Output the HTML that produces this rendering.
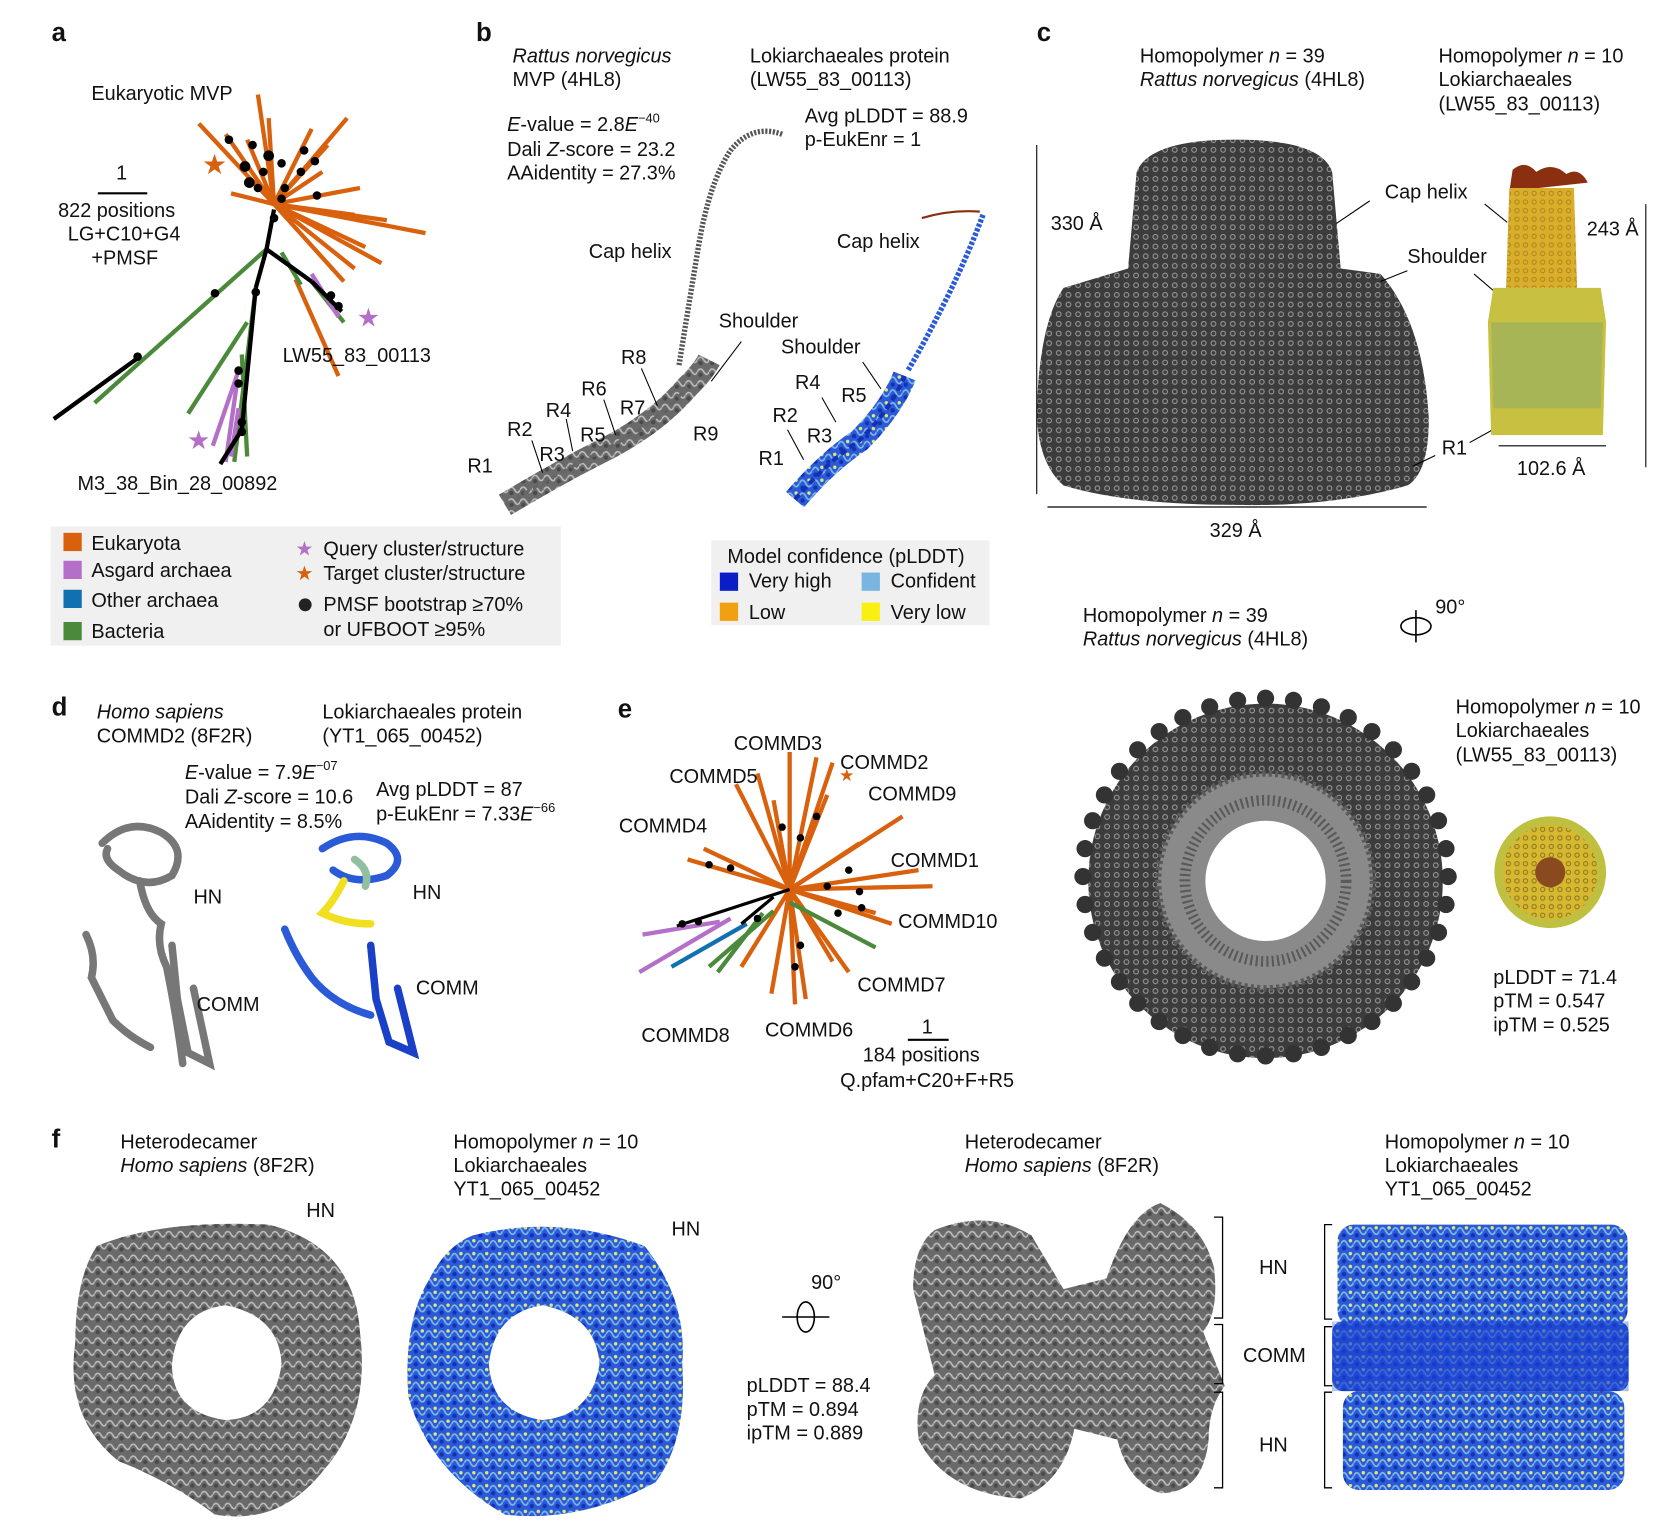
<!DOCTYPE html>
<html><head><meta charset="utf-8"><style>
html,body{margin:0;padding:0;background:#fff;}
svg{display:block;}
text{font-family:"Liberation Sans",sans-serif;font-size:18.5px;fill:#111;}
.b{font-weight:bold;font-size:24px;}
.i{font-style:italic;}
</style></head><body>
<svg width="1676" height="1534" viewBox="0 0 1560 1428" xmlns="http://www.w3.org/2000/svg">
<defs>
<pattern id="pg" width="9" height="9" patternUnits="userSpaceOnUse"><rect width="9" height="9" fill="#3c3c3c"/><circle cx="4.5" cy="4.5" r="2.2" fill="none" stroke="#9a9a9a" stroke-width="1"/></pattern>
<pattern id="pg2" width="11" height="11" patternUnits="userSpaceOnUse"><rect width="11" height="11" fill="#6a6a6a"/><path d="M0 5 Q3 0 6 5 T11 5" fill="none" stroke="#bdbdbd" stroke-width="1.5"/><circle cx="3" cy="8" r="2" fill="#4a4a4a"/></pattern>
<pattern id="pb" width="12" height="12" patternUnits="userSpaceOnUse"><rect width="12" height="12" fill="#2a5ad8"/><path d="M0 6 Q3 0 6 6 T12 6" fill="none" stroke="#7fb8e8" stroke-width="1.6"/><circle cx="9" cy="3" r="1.6" fill="#e8e870"/><circle cx="3" cy="10" r="2" fill="#1530b0"/></pattern>
<pattern id="py" width="8" height="8" patternUnits="userSpaceOnUse"><rect width="8" height="8" fill="#d8b830"/><circle cx="4" cy="4" r="2" fill="none" stroke="#8a7a20" stroke-width="1"/></pattern>
</defs>

<!-- Panel labels -->
<text x="48" y="38" class="b">a</text>
<text x="443" y="38" class="b">b</text>
<text x="965" y="38" class="b">c</text>
<text x="48" y="666" class="b">d</text>
<text x="575" y="668" class="b">e</text>
<text x="48" y="1068" class="b">f</text>

<!-- Panel a tree -->
<g stroke="#d9600c" stroke-width="4" stroke-linecap="butt">
<line x1="255" y1="190" x2="240" y2="88"/><line x1="255" y1="190" x2="323" y2="110"/>
<line x1="255" y1="190" x2="396" y2="217"/><line x1="255" y1="190" x2="355" y2="245"/>
<line x1="255" y1="190" x2="330" y2="250"/><line x1="255" y1="190" x2="185" y2="115"/>
<line x1="255" y1="190" x2="305" y2="135"/><line x1="255" y1="190" x2="290" y2="120"/>
<line x1="255" y1="190" x2="335" y2="175"/><line x1="255" y1="190" x2="330" y2="200"/>
<line x1="255" y1="190" x2="210" y2="125"/><line x1="255" y1="190" x2="215" y2="180"/>
<line x1="255" y1="190" x2="340" y2="230"/><line x1="255" y1="190" x2="300" y2="160"/>
<line x1="255" y1="190" x2="320" y2="262"/><line x1="255" y1="190" x2="250" y2="110"/>
<line x1="255" y1="190" x2="230" y2="130"/><line x1="255" y1="190" x2="360" y2="205"/>
<line x1="275" y1="260" x2="315" y2="350"/>
</g>
<g stroke="#4a8a3a" stroke-width="4">
<line x1="248" y1="232" x2="88" y2="375"/><line x1="238" y1="268" x2="218" y2="430"/>
<line x1="230" y1="300" x2="175" y2="385"/><line x1="262" y1="235" x2="280" y2="265"/>
<line x1="290" y1="262" x2="320" y2="300"/><line x1="225" y1="330" x2="230" y2="425"/>
</g>
<g stroke="#b470c8" stroke-width="4">
<line x1="290" y1="255" x2="315" y2="295"/><line x1="222" y1="345" x2="198" y2="415"/>
<line x1="220" y1="360" x2="210" y2="430"/><line x1="222" y1="380" x2="215" y2="425"/>
</g>
<g stroke="#000" stroke-width="4">
<line x1="255" y1="195" x2="248" y2="232"/><line x1="248" y1="232" x2="238" y2="268"/>
<line x1="130" y1="332" x2="50" y2="390"/><line x1="248" y1="232" x2="290" y2="262"/>
<line x1="238" y1="268" x2="225" y2="400"/><line x1="225" y1="400" x2="205" y2="432"/>
<line x1="290" y1="262" x2="318" y2="290"/>
</g>
<g fill="#000">
<circle cx="255" cy="203" r="4"/><circle cx="238" cy="272" r="4"/><circle cx="200" cy="273" r="4"/>
<circle cx="128" cy="332" r="4"/><circle cx="222" cy="345" r="4"/><circle cx="222" cy="357" r="4"/>
<circle cx="225" cy="393" r="4"/><circle cx="225" cy="402" r="4"/><circle cx="308" cy="275" r="4"/>
<circle cx="315" cy="285" r="4"/><circle cx="213" cy="130" r="4"/><circle cx="235" cy="135" r="4"/>
<circle cx="250" cy="145" r="5"/><circle cx="228" cy="155" r="5"/><circle cx="245" cy="160" r="4"/>
<circle cx="232" cy="170" r="5"/><circle cx="262" cy="152" r="4"/><circle cx="283" cy="140" r="4"/>
<circle cx="265" cy="175" r="4"/><circle cx="293" cy="150" r="4"/><circle cx="280" cy="160" r="4"/>
<circle cx="240" cy="175" r="4"/><circle cx="262" cy="185" r="4"/><circle cx="295" cy="182" r="4"/>
</g>
<text x="188" y="162" fill="#d9600c" style="fill:#d9600c;font-size:26px">★</text>
<text x="332" y="304" style="fill:#b470c8;font-size:24px">★</text>
<text x="174" y="418" style="fill:#b470c8;font-size:24px">★</text>
<text x="85" y="93">Eukaryotic MVP</text>
<text x="108" y="167">1</text>
<line x1="91" y1="180" x2="137" y2="180" stroke="#000" stroke-width="2"/>
<text x="54" y="202">822 positions</text>
<text x="63" y="224">LG+C10+G4</text>
<text x="85" y="246">+PMSF</text>
<text x="263" y="337">LW55_83_00113</text>
<text x="72" y="456">M3_38_Bin_28_00892</text>

<!-- legend a -->
<rect x="47" y="490" width="475" height="111" fill="#f0f0f0"/>
<rect x="59" y="496" width="17" height="17" fill="#d9600c"/><text x="85" y="512">Eukaryota</text>
<rect x="59" y="522" width="17" height="17" fill="#b470c8"/><text x="85" y="537">Asgard archaea</text>
<rect x="59" y="549" width="17" height="17" fill="#1070b0"/><text x="85" y="565">Other archaea</text>
<rect x="59" y="579" width="17" height="17" fill="#4a8a3a"/><text x="85" y="594">Bacteria</text>
<text x="275" y="517" style="fill:#b470c8">★</text><text x="301" y="517">Query cluster/structure</text>
<text x="275" y="540" style="fill:#d9600c">★</text><text x="301" y="540">Target cluster/structure</text>
<circle cx="284" cy="563" r="6" fill="#222"/><text x="301" y="569">PMSF bootstrap ≥70%</text>
<text x="301" y="592">or UFBOOT ≥95%</text>

<!-- Panel b -->
<text x="477" y="58" class="i">Rattus norvegicus</text>
<text x="477" y="80">MVP (4HL8)</text>
<text x="698" y="58">Lokiarchaeales protein</text>
<text x="698" y="80">(LW55_83_00113)</text>
<text x="472" y="122"><tspan class="i">E</tspan>-value = 2.8<tspan class="i">E</tspan><tspan dy="-8" style="font-size:12px">−40</tspan></text>
<text x="472" y="145">Dali <tspan class="i">Z</tspan>-score = 23.2</text>
<text x="472" y="167">AAidentity = 27.3%</text>
<text x="749" y="114">Avg pLDDT = 88.9</text>
<text x="749" y="136">p-EukEnr = 1</text>
<text x="548" y="240">Cap helix</text>
<text x="779" y="231">Cap helix</text>
<text x="669" y="305">Shoulder</text>
<text x="727" y="329">Shoulder</text>
<path d="M728,125 Q700,115 680,140 Q660,170 650,230 Q640,290 632,340" fill="none" stroke="#555" stroke-width="5" stroke-dasharray="2 1.5"/>
<path d="M470,470 Q520,440 560,420 Q610,395 640,360 Q655,345 660,335" fill="none" stroke="url(#pg2)" stroke-width="22"/>
<path d="M470,470 Q520,440 560,420 Q610,395 640,360" fill="none" stroke="#666" stroke-width="3" stroke-dasharray="6 4"/>
<path d="M915,200 Q900,240 880,280 Q860,320 845,345" fill="none" stroke="#2a5ad8" stroke-width="5" stroke-dasharray="3 1.5"/>
<path d="M858,203 Q885,195 912,197" fill="none" stroke="#8a3010" stroke-width="2"/>
<path d="M740,465 Q770,430 800,410 Q830,380 842,350" fill="none" stroke="url(#pb)" stroke-width="22"/>
<path d="M740,465 Q770,430 800,410 Q830,380 842,350" fill="none" stroke="#1530b0" stroke-width="4" stroke-dasharray="6 4"/>
<g stroke="#000" stroke-width="1">
<line x1="662" y1="355" x2="690" y2="318"/><line x1="597" y1="343" x2="612" y2="378"/>
<line x1="562" y1="372" x2="573" y2="405"/><line x1="527" y1="390" x2="533" y2="420"/>
<line x1="495" y1="410" x2="505" y2="440"/><line x1="820" y1="362" x2="803" y2="337"/>
<line x1="765" y1="370" x2="778" y2="393"/><line x1="733" y1="400" x2="748" y2="428"/>
</g>
<text x="578" y="339">R8</text><text x="541" y="368">R6</text><text x="577" y="386">R7</text>
<text x="508" y="388">R4</text><text x="540" y="411">R5</text><text x="472" y="406">R2</text>
<text x="502" y="429">R3</text><text x="645" y="410">R9</text><text x="435" y="440">R1</text>
<text x="740" y="362">R4</text><text x="783" y="374">R5</text><text x="719" y="393">R2</text>
<text x="751" y="412">R3</text><text x="706" y="433">R1</text>
<!-- legend b -->
<rect x="662" y="503" width="259" height="79" fill="#f0f0f0"/>
<text x="677" y="524">Model confidence (pLDDT)</text>
<rect x="670" y="533" width="17" height="17" fill="#0a1ec8"/><text x="697" y="547">Very high</text>
<rect x="802" y="533" width="17" height="17" fill="#7ab4e0"/><text x="829" y="547">Confident</text>
<rect x="670" y="561" width="17" height="17" fill="#f0a010"/><text x="697" y="576">Low</text>
<rect x="802" y="561" width="17" height="17" fill="#f8f010"/><text x="829" y="576">Very low</text>

<!-- Panel c -->
<text x="1061" y="58">Homopolymer <tspan class="i">n</tspan> = 39</text>
<text x="1061" y="80" class="i">Rattus norvegicus <tspan style="font-style:normal">(4HL8)</tspan></text>
<text x="1339" y="58">Homopolymer <tspan class="i">n</tspan> = 10</text>
<text x="1339" y="80">Lokiarchaeales</text>
<text x="1339" y="103">(LW55_83_00113)</text>
<path d="M1050,250 L1058,160 Q1070,130 1150,130 Q1230,130 1240,160 L1248,250 Z" fill="url(#pg)"/>
<path d="M990,268 L1050,250 L1248,250 L1285,255 Q1325,300 1330,390 Q1330,440 1310,452 Q1240,472 1150,470 Q1050,470 990,452 Q965,430 965,380 Q968,300 990,268 Z" fill="url(#pg)"/>
<line x1="965" y1="135" x2="965" y2="460" stroke="#000" stroke-width="1"/>
<line x1="975" y1="472" x2="1328" y2="472" stroke="#000" stroke-width="1.2"/>
<text x="978" y="214">330 Å</text>
<text x="1126" y="500">329 Å</text>
<text x="1289" y="185">Cap helix</text>
<text x="1310" y="245">Shoulder</text>
<text x="1342" y="423">R1</text>
<g stroke="#000" stroke-width="1"><line x1="1275" y1="187" x2="1244" y2="208"/><line x1="1382" y1="190" x2="1403" y2="207"/>
<line x1="1310" y1="252" x2="1285" y2="262"/><line x1="1372" y1="255" x2="1393" y2="273"/>
<line x1="1336" y1="424" x2="1315" y2="434"/><line x1="1368" y1="412" x2="1395" y2="397"/></g>
<path d="M1408,158 Q1420,148 1430,160 Q1445,150 1458,162 Q1470,155 1478,170 L1405,178 Z" fill="#8a3010"/>
<path d="M1405,175 L1465,175 L1468,268 L1402,268 Z" fill="#dca020"/>
<path d="M1405,175 L1465,175 L1468,268 L1402,268 Z" fill="url(#py)" opacity="0.6"/>
<path d="M1390,268 L1490,268 L1495,300 L1492,405 L1388,405 L1385,300 Z" fill="#c8c040"/>
<path d="M1388,300 L1492,300 L1490,380 L1390,380 Z" fill="#98b060" opacity="0.7"/>
<line x1="1395" y1="415" x2="1495" y2="415" stroke="#000" stroke-width="1"/>
<line x1="1532" y1="190" x2="1532" y2="435" stroke="#000" stroke-width="1"/>
<text x="1477" y="219">243 Å</text>
<text x="1412" y="442">102.6 Å</text>
<text x="1008" y="579">Homopolymer <tspan class="i">n</tspan> = 39</text>
<text x="1008" y="601" class="i">Rattus norvegicus <tspan style="font-style:normal">(4HL8)</tspan></text>
<ellipse cx="1318" cy="583" rx="14" ry="8" fill="none" stroke="#000" stroke-width="1.5"/>
<line x1="1318" y1="568" x2="1318" y2="598" stroke="#000" stroke-width="1.5"/>
<line x1="1302" y1="583" x2="1345" y2="583" stroke="#fff" stroke-width="0"/>
<text x="1336" y="571">90°</text>

<!-- Panel e ring -->
<g fill="#3a3a3a">
<circle cx="1178" cy="820" r="165" fill="url(#pg)"/>
</g>
<g id="teeth" fill="#333">
<circle cx="1178" cy="650" r="8"/><circle cx="1204" cy="652" r="8"/><circle cx="1230" cy="658" r="8"/><circle cx="1255" cy="668" r="8"/><circle cx="1277" cy="681" r="8"/><circle cx="1297" cy="698" r="8"/><circle cx="1314" cy="718" r="8"/><circle cx="1328" cy="740" r="8"/><circle cx="1339" cy="764" r="8"/><circle cx="1346" cy="790" r="8"/><circle cx="1348" cy="816" r="8"/><circle cx="1346" cy="842" r="8"/><circle cx="1339" cy="868" r="8"/><circle cx="1328" cy="892" r="8"/><circle cx="1314" cy="914" r="8"/><circle cx="1297" cy="934" r="8"/><circle cx="1277" cy="951" r="8"/><circle cx="1255" cy="964" r="8"/><circle cx="1230" cy="975" r="8"/><circle cx="1204" cy="981" r="8"/><circle cx="1178" cy="983" r="8"/><circle cx="1152" cy="981" r="8"/><circle cx="1126" cy="975" r="8"/><circle cx="1101" cy="964" r="8"/><circle cx="1079" cy="951" r="8"/><circle cx="1059" cy="934" r="8"/><circle cx="1042" cy="914" r="8"/><circle cx="1028" cy="892" r="8"/><circle cx="1017" cy="868" r="8"/><circle cx="1010" cy="842" r="8"/><circle cx="1008" cy="816" r="8"/><circle cx="1010" cy="790" r="8"/><circle cx="1017" cy="764" r="8"/><circle cx="1028" cy="740" r="8"/><circle cx="1042" cy="718" r="8"/><circle cx="1059" cy="698" r="8"/><circle cx="1079" cy="681" r="8"/><circle cx="1101" cy="668" r="8"/><circle cx="1126" cy="658" r="8"/><circle cx="1152" cy="652" r="8"/>
</g>
<circle cx="1178" cy="820" r="100" fill="#8a8a8a"/>
<circle cx="1178" cy="820" r="100" fill="none" stroke="#5a5a5a" stroke-width="6" stroke-dasharray="3 3"/>
<circle cx="1178" cy="820" r="75" fill="none" stroke="#5a5a5a" stroke-width="10" stroke-dasharray="2 3"/>
<circle cx="1178" cy="820" r="56" fill="#fff"/>
<text x="1355" y="664">Homopolymer <tspan class="i">n</tspan> = 10</text>
<text x="1355" y="686">Lokiarchaeales</text>
<text x="1355" y="709">(LW55_83_00113)</text>
<circle cx="1443" cy="812" r="52" fill="#c0c040"/>
<circle cx="1443" cy="812" r="44" fill="url(#py)"/>
<circle cx="1443" cy="812" r="14" fill="#8a4a20"/>
<text x="1390" y="916">pLDDT = 71.4</text>
<text x="1390" y="938">pTM = 0.547</text>
<text x="1390" y="960">ipTM = 0.525</text>

<!-- Panel d -->
<text x="90" y="669" class="i">Homo sapiens</text>
<text x="90" y="691">COMMD2 (8F2R)</text>
<text x="300" y="669">Lokiarchaeales protein</text>
<text x="300" y="691">(YT1_065_00452)</text>
<text x="172" y="725"><tspan class="i">E</tspan>-value = 7.9<tspan class="i">E</tspan><tspan dy="-8" style="font-size:12px">−07</tspan></text>
<text x="172" y="748">Dali <tspan class="i">Z</tspan>-score = 10.6</text>
<text x="172" y="771">AAidentity = 8.5%</text>
<text x="350" y="741">Avg pLDDT = 87</text>
<text x="350" y="764">p-EukEnr = 7.33<tspan class="i">E</tspan><tspan dy="-8" style="font-size:12px">−66</tspan></text>
<g fill="none" stroke="#777" stroke-width="7" stroke-linecap="round">
<path d="M95,785 Q120,760 150,775 Q175,790 160,815 Q135,830 110,810 Q95,800 100,790"/>
<path d="M130,820 Q135,850 150,860 Q145,880 155,900 Q165,950 170,990"/>
<path d="M80,870 Q90,890 85,910 Q95,930 105,950 Q120,965 140,975"/>
<path d="M160,880 L165,930 L175,980 L195,990 L180,920"/>
</g>
<g fill="none" stroke-width="7" stroke-linecap="round">
<path d="M300,790 Q330,770 360,785 Q380,800 360,815 Q330,825 310,810" stroke="#2a5ad8"/>
<path d="M320,820 Q310,840 300,850 Q320,860 345,860" stroke="#f0e020"/>
<path d="M265,865 Q275,890 290,910 Q310,935 345,945" stroke="#2a5ad8"/>
<path d="M345,880 L350,930 L362,970 L385,980 L370,920" stroke="#1a40c8"/>
<path d="M330,800 Q345,810 340,825" stroke="#90c0a0"/>
</g>
<text x="180" y="841">HN</text><text x="384" y="837">HN</text>
<text x="183" y="941">COMM</text><text x="387" y="926">COMM</text>

<!-- Panel e tree -->
<g stroke="#d9600c" stroke-width="4">
<line x1="735" y1="828" x2="735" y2="700"/><line x1="735" y1="828" x2="760" y2="705"/>
<line x1="735" y1="828" x2="775" y2="710"/><line x1="735" y1="828" x2="840" y2="760"/>
<line x1="735" y1="828" x2="685" y2="730"/><line x1="735" y1="828" x2="705" y2="720"/>
<line x1="735" y1="828" x2="640" y2="800"/><line x1="735" y1="828" x2="655" y2="790"/>
<line x1="735" y1="828" x2="868" y2="825"/><line x1="735" y1="828" x2="855" y2="810"/>
<line x1="735" y1="828" x2="830" y2="860"/><line x1="735" y1="828" x2="815" y2="850"/>
<line x1="735" y1="828" x2="790" y2="905"/><line x1="735" y1="828" x2="775" y2="895"/>
<line x1="735" y1="828" x2="740" y2="935"/><line x1="735" y1="828" x2="750" y2="930"/>
<line x1="735" y1="828" x2="718" y2="925"/><line x1="735" y1="828" x2="690" y2="900"/>
<line x1="735" y1="828" x2="800" y2="785"/><line x1="735" y1="828" x2="770" y2="740"/>
<line x1="735" y1="828" x2="720" y2="745"/>
</g>
<g stroke="#b470c8" stroke-width="4"><line x1="680" y1="855" x2="595" y2="905"/><line x1="670" y1="858" x2="598" y2="870"/></g>
<g stroke="#1070b0" stroke-width="4"><line x1="695" y1="860" x2="625" y2="900"/></g>
<g stroke="#4a8a3a" stroke-width="4"><line x1="735" y1="840" x2="815" y2="882"/><line x1="720" y1="848" x2="660" y2="900"/><line x1="710" y1="850" x2="668" y2="905"/></g>
<g stroke="#000" stroke-width="3"><line x1="735" y1="828" x2="630" y2="862"/><line x1="720" y1="835" x2="690" y2="860"/></g>
<g fill="#000"><circle cx="660" cy="805" r="3.5"/><circle cx="680" cy="808" r="3.5"/><circle cx="760" cy="760" r="3.5"/><circle cx="745" cy="780" r="3.5"/><circle cx="790" cy="810" r="3.5"/><circle cx="800" cy="830" r="3.5"/><circle cx="802" cy="845" r="3.5"/><circle cx="780" cy="850" r="3.5"/><circle cx="745" cy="880" r="3.5"/><circle cx="740" cy="900" r="3.5"/><circle cx="705" cy="855" r="3.5"/><circle cx="635" cy="860" r="3.5"/><circle cx="650" cy="858" r="3.5"/><circle cx="728" cy="770" r="3.5"/><circle cx="770" cy="825" r="3.5"/></g>
<text x="781" y="727" style="fill:#d9600c;font-size:16px">★</text>
<text x="683" y="698">COMMD3</text><text x="782" y="716">COMMD2</text>
<text x="623" y="729">COMMD5</text><text x="808" y="745">COMMD9</text>
<text x="576" y="775">COMMD4</text><text x="829" y="807">COMMD1</text>
<text x="836" y="864">COMMD10</text><text x="798" y="923">COMMD7</text>
<text x="597" y="970">COMMD8</text><text x="712" y="965">COMMD6</text>
<text x="858" y="962">1</text>
<line x1="845" y1="968" x2="883" y2="968" stroke="#000" stroke-width="2"/>
<text x="803" y="988">184 positions</text>
<text x="782" y="1012">Q.pfam+C20+F+R5</text>

<!-- Panel f -->
<text x="112" y="1069">Heterodecamer</text>
<text x="112" y="1091" class="i">Homo sapiens <tspan style="font-style:normal">(8F2R)</tspan></text>
<text x="422" y="1069">Homopolymer <tspan class="i">n</tspan> = 10</text>
<text x="422" y="1091">Lokiarchaeales</text>
<text x="422" y="1113">YT1_065_00452</text>
<text x="898" y="1069">Heterodecamer</text>
<text x="898" y="1091" class="i">Homo sapiens <tspan style="font-style:normal">(8F2R)</tspan></text>
<text x="1289" y="1069">Homopolymer <tspan class="i">n</tspan> = 10</text>
<text x="1289" y="1091">Lokiarchaeales</text>
<text x="1289" y="1113">YT1_065_00452</text>
<text x="285" y="1133">HN</text><text x="625" y="1150">HN</text>
<path fill-rule="evenodd" fill="url(#pg2)" d="M90,1160 Q150,1135 250,1140 Q330,1160 335,1240 Q345,1320 300,1370 Q260,1420 200,1410 Q160,1380 110,1360 Q60,1320 70,1250 Q70,1190 90,1160 Z M210,1215 Q260,1225 262,1270 Q255,1320 210,1322 Q160,1315 160,1270 Q165,1220 210,1215 Z"/>
<path fill-rule="evenodd" fill="url(#pb)" d="M440,1150 Q520,1130 600,1160 Q640,1210 635,1270 Q640,1340 610,1380 Q540,1418 470,1410 Q400,1370 380,1300 Q375,1230 400,1190 Q415,1160 440,1150 Z M505,1215 Q555,1225 558,1270 Q550,1318 505,1322 Q458,1315 455,1270 Q460,1222 505,1215 Z"/>
<text x="755" y="1200">90°</text>
<ellipse cx="750" cy="1226" rx="8" ry="14" fill="none" stroke="#000" stroke-width="1.5"/>
<line x1="728" y1="1226" x2="772" y2="1226" stroke="#000" stroke-width="1.5"/>
<text x="695" y="1296">pLDDT = 88.4</text>
<text x="695" y="1318">pTM = 0.894</text>
<text x="695" y="1340">ipTM = 0.889</text>
<path fill="url(#pg2)" d="M870,1145 Q920,1125 960,1150 L990,1200 L1030,1190 Q1050,1130 1080,1120 Q1120,1140 1130,1180 Q1135,1220 1120,1240 L1140,1290 Q1125,1310 1125,1340 Q1120,1390 1080,1390 Q1050,1380 1040,1340 L1000,1330 Q990,1380 950,1395 Q880,1390 855,1340 Q850,1300 870,1280 L850,1200 Q850,1160 870,1145 Z"/>
<rect x="1245" y="1140" width="270" height="95" rx="15" fill="url(#pb)"/>
<rect x="1240" y="1230" width="276" height="65" rx="10" fill="#1a40d0"/>
<rect x="1240" y="1230" width="276" height="65" fill="url(#pb)" opacity="0.35"/>
<rect x="1250" y="1295" width="262" height="92" rx="15" fill="url(#pb)"/>
<g fill="none" stroke="#000" stroke-width="1.2">
<path d="M1130,1133 H1138 V1227 H1130"/><path d="M1130,1233 H1138 V1288 H1130"/><path d="M1130,1296 H1138 V1385 H1130"/>
<path d="M1240,1140 H1233 V1228 H1240"/><path d="M1240,1235 H1233 V1290 H1240"/><path d="M1240,1296 H1233 V1385 H1240"/>
</g>
<text x="1172" y="1186">HN</text><text x="1157" y="1268">COMM</text><text x="1172" y="1351">HN</text>
</svg>
</body></html>
